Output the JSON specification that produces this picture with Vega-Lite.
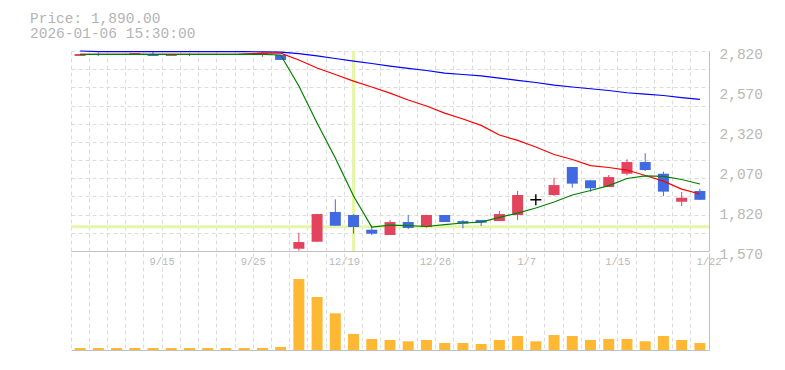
{
  "$schema": "https://vega.github.io/schema/vega-lite/v6.json",
  "padding": {"left": 30, "top": 10, "right": 5, "bottom": 5},
  "background": "white",
  "title": {"text": ["Price: 1,890.00", "2026-01-06 15:30:00"], "anchor": "start", "frame": "group", "dx": -41, "font": "Liberation Mono", "fontSize": 14.5, "fontWeight": "normal", "color": "#b4b4b4", "lineHeight": 15, "offset": 5},
  "config": {
    "view": {"stroke": null},
    "axis": {"labelFont": "Liberation Mono", "labelColor": "#b8b8b8", "domainColor": "#c0c0c0", "gridColor": "#dcdcdc", "gridDash": [4, 3], "gridWidth": 1}
  },
  "datasets": {
    "k": [
      {"d": "9/9", "o": 2789, "h": 2801, "l": 2789, "c": 2801, "dir": "up", "v": 200, "ma5": 2799, "ma25": 2799, "ma75": 2820},
      {"d": "9/10", "o": 2801, "h": 2810, "l": 2789, "c": 2796, "dir": "down", "v": 200, "ma5": 2799, "ma25": 2799, "ma75": 2816},
      {"d": "9/11", "o": 2796, "h": 2802, "l": 2795, "c": 2801, "dir": "up", "v": 200, "ma5": 2799, "ma25": 2799, "ma75": 2816},
      {"d": "9/12", "o": 2795, "h": 2807, "l": 2795, "c": 2807, "dir": "up", "v": 200, "ma5": 2799, "ma25": 2799, "ma75": 2816},
      {"d": "9/15", "o": 2801, "h": 2818, "l": 2789, "c": 2789, "dir": "down", "v": 200, "ma5": 2799, "ma25": 2799, "ma75": 2816},
      {"d": "9/17", "o": 2789, "h": 2801, "l": 2789, "c": 2801, "dir": "up", "v": 200, "ma5": 2799, "ma25": 2799, "ma75": 2816},
      {"d": "9/19", "o": 2801, "h": 2805, "l": 2789, "c": 2796, "dir": "down", "v": 200, "ma5": 2799, "ma25": 2799, "ma75": 2816},
      {"d": "9/22", "o": 2796, "h": 2801, "l": 2796, "c": 2801, "dir": "up", "v": 200, "ma5": 2799, "ma25": 2799, "ma75": 2816},
      {"d": "9/24", "o": 2801, "h": 2801, "l": 2796, "c": 2796, "dir": "down", "v": 200, "ma5": 2799, "ma25": 2799, "ma75": 2816},
      {"d": "9/25", "o": 2797, "h": 2803, "l": 2797, "c": 2803, "dir": "flat", "v": 200, "ma5": 2799, "ma25": 2800, "ma75": 2816},
      {"d": "9/26", "o": 2798, "h": 2808, "l": 2783, "c": 2808, "dir": "up", "v": 200, "ma5": 2799, "ma25": 2807, "ma75": 2815},
      {"d": "9/29", "o": 2795, "h": 2795, "l": 2764, "c": 2764, "dir": "down", "v": 300, "ma5": 2795, "ma25": 2807, "ma75": 2813},
      {"d": "12/17", "o": 1584, "h": 1684, "l": 1572, "c": 1626, "dir": "up", "v": 7100, "ma5": 2601, "ma25": 2764, "ma75": 2803},
      {"d": "12/18", "o": 1628, "h": 1803, "l": 1626, "c": 1801, "dir": "up", "v": 5300, "ma5": 2370, "ma25": 2714, "ma75": 2789},
      {"d": "12/19", "o": 1814, "h": 1893, "l": 1728, "c": 1728, "dir": "down", "v": 3670, "ma5": 2151, "ma25": 2673, "ma75": 2773},
      {"d": "12/22", "o": 1795, "h": 1800, "l": 1678, "c": 1720, "dir": "down", "v": 1600, "ma5": 1914, "ma25": 2632, "ma75": 2757},
      {"d": "12/23", "o": 1703, "h": 1726, "l": 1670, "c": 1678, "dir": "down", "v": 1100, "ma5": 1720, "ma25": 2595, "ma75": 2742},
      {"d": "12/24", "o": 1670, "h": 1764, "l": 1670, "c": 1751, "dir": "up", "v": 1000, "ma5": 1732, "ma25": 2557, "ma75": 2726},
      {"d": "12/25", "o": 1751, "h": 1795, "l": 1707, "c": 1714, "dir": "down", "v": 870, "ma5": 1729, "ma25": 2514, "ma75": 2711},
      {"d": "12/26", "o": 1720, "h": 1797, "l": 1716, "c": 1795, "dir": "up", "v": 1000, "ma5": 1723, "ma25": 2476, "ma75": 2698},
      {"d": "12/29", "o": 1795, "h": 1795, "l": 1751, "c": 1751, "dir": "down", "v": 700, "ma5": 1735, "ma25": 2432, "ma75": 2682},
      {"d": "12/30", "o": 1757, "h": 1764, "l": 1712, "c": 1741, "dir": "down", "v": 700, "ma5": 1745, "ma25": 2395, "ma75": 2673},
      {"d": "1/5", "o": 1764, "h": 1764, "l": 1726, "c": 1747, "dir": "down", "v": 600, "ma5": 1751, "ma25": 2355, "ma75": 2664},
      {"d": "1/6", "o": 1757, "h": 1820, "l": 1757, "c": 1801, "dir": "up", "v": 1000, "ma5": 1780, "ma25": 2295, "ma75": 2651},
      {"d": "1/7", "o": 1795, "h": 1945, "l": 1764, "c": 1920, "dir": "up", "v": 1400, "ma5": 1807, "ma25": 2261, "ma75": 2636},
      {"d": "1/8", "o": 1890, "h": 1890, "l": 1890, "c": 1890, "dir": "flat", "v": 870, "ma5": 1839, "ma25": 2220, "ma75": 2623},
      {"d": "1/9", "o": 1920, "h": 2028, "l": 1914, "c": 1982, "dir": "up", "v": 1500, "ma5": 1876, "ma25": 2173, "ma75": 2607},
      {"d": "1/13", "o": 2095, "h": 2095, "l": 1966, "c": 1991, "dir": "down", "v": 1400, "ma5": 1920, "ma25": 2142, "ma75": 2595},
      {"d": "1/14", "o": 2012, "h": 2012, "l": 1941, "c": 1962, "dir": "down", "v": 1000, "ma5": 1948, "ma25": 2104, "ma75": 2584},
      {"d": "1/15", "o": 1970, "h": 2045, "l": 1970, "c": 2032, "dir": "up", "v": 1100, "ma5": 1979, "ma25": 2092, "ma75": 2573},
      {"d": "1/16", "o": 2053, "h": 2143, "l": 2043, "c": 2126, "dir": "up", "v": 1100, "ma5": 2023, "ma25": 2076, "ma75": 2559},
      {"d": "1/19", "o": 2126, "h": 2181, "l": 2070, "c": 2076, "dir": "down", "v": 870, "ma5": 2039, "ma25": 2042, "ma75": 2551},
      {"d": "1/20", "o": 2053, "h": 2066, "l": 1914, "c": 1941, "dir": "down", "v": 1400, "ma5": 2036, "ma25": 2007, "ma75": 2542},
      {"d": "1/21", "o": 1878, "h": 1939, "l": 1851, "c": 1903, "dir": "up", "v": 1000, "ma5": 2017, "ma25": 1957, "ma75": 2529},
      {"d": "1/22", "o": 1945, "h": 1959, "l": 1890, "c": 1890, "dir": "down", "v": 700, "ma5": 1989, "ma25": 1926, "ma75": 2518}
    ]
  },
  "bounds": "flush",
  "spacing": 2,
  "resolve": {"scale": {"x": "independent"}},
  "vconcat": [
    {
      "width": 638,
      "height": 200,
      "data": {"name": "k"},
      "encoding": {
        "x": {"field": "d", "type": "ordinal", "sort": null,
          "scale": {"type": "band", "paddingInner": 0, "paddingOuter": 0, "domain": ["9/9","9/10","9/11","9/12","9/15","9/17","9/19","9/22","9/24","9/25","9/26","9/29","12/17","12/18","12/19","12/22","12/23","12/24","12/25","12/26","12/29","12/30","1/5","1/6","1/7","1/8","1/9","1/13","1/14","1/15","1/16","1/19","1/20","1/21","1/22"]},
          "axis": {"bandPosition": 0, "grid": true, "ticks": false, "domain": true, "title": null, "labelAngle": 0, "labelOverlap": false, "labelFlush": false, "labelOffset": 9.1, "labelPadding": 5, "labelFontSize": 10.5, "labelExpr": "indexof(['9/15','9/25','12/19','12/26','1/7','1/15','1/22'], datum.value) >= 0 ? datum.value : ''"}}
      },
      "layer": [
        {
          "data": {"values": [{}]},
          "mark": {"type": "rule", "color": "#e5f6a8", "strokeWidth": 3},
          "encoding": {
            "x": null,
            "y": {"datum": 1722, "type": "quantitative", "scale": {"domain": [1570, 2820], "nice": false, "zero": false},
              "axis": {"orient": "left", "values": [1570, 1683.64, 1797.27, 1910.91, 2024.55, 2138.18, 2251.82, 2365.45, 2479.09, 2592.73, 2706.36, 2820], "grid": true, "labels": false, "ticks": false, "domain": false, "title": null}}
          }
        },
        {
          "data": {"values": [{}]},
          "mark": {"type": "rule", "color": "#e5f6a8", "strokeWidth": 3},
          "encoding": {"x": {"datum": "12/22", "type": "ordinal"}}
        },
        {
          "mark": {"type": "rule", "strokeWidth": 1},
          "encoding": {
            "y": {"field": "l", "type": "quantitative", "scale": {"domain": [1570, 2820], "nice": false, "zero": false},
              "axis": {"orient": "right", "values": [1570, 1820, 2070, 2320, 2570, 2820], "format": ",.0f", "grid": false, "ticks": false, "domain": true, "labels": true, "labelPadding": 10, "labelOffset": 3, "labelFlush": false, "labelFontSize": 14.5, "title": null}},
            "y2": {"field": "h"},
            "color": {"field": "dir", "type": "nominal", "scale": {"domain": ["up", "down", "flat"], "range": ["#e2445e", "#4169e1", "#000000"]}, "legend": null}
          }
        },
        {
          "mark": {"type": "bar", "size": 11},
          "encoding": {
            "y": {"field": "o", "type": "quantitative", "scale": {"domain": [1570, 2820], "nice": false, "zero": false}, "axis": null},
            "y2": {"field": "c"},
            "color": {"field": "dir", "type": "nominal", "scale": {"domain": ["up", "down", "flat"], "range": ["#e2445e", "#4169e1", "#000000"]}, "legend": null}
          }
        },
        {
          "mark": {"type": "line", "color": "#0000ff", "strokeWidth": 1.2},
          "encoding": {"y": {"field": "ma75", "type": "quantitative", "scale": {"domain": [1570, 2820], "nice": false, "zero": false}, "axis": null}}
        },
        {
          "mark": {"type": "line", "color": "#ff0000", "strokeWidth": 1.2},
          "encoding": {"y": {"field": "ma25", "type": "quantitative", "scale": {"domain": [1570, 2820], "nice": false, "zero": false}, "axis": null}}
        },
        {
          "mark": {"type": "line", "color": "#008000", "strokeWidth": 1.2},
          "encoding": {"y": {"field": "ma5", "type": "quantitative", "scale": {"domain": [1570, 2820], "nice": false, "zero": false}, "axis": null}}
        },
        {
          "data": {"values": [{}]},
          "mark": {"type": "point", "shape": "M-1,0L1,0M0,-1L0,1", "filled": false, "color": "#000000", "strokeWidth": 1.4, "size": 121, "opacity": 1},
          "encoding": {
            "x": {"datum": "1/8", "type": "ordinal"},
            "y": {"datum": 1890, "type": "quantitative", "scale": {"domain": [1570, 2820], "nice": false, "zero": false}, "axis": null}
          }
        }
      ],
      "resolve": {"scale": {"y": "independent"}, "axis": {"y": "independent"}}
    },
    {
      "width": 638,
      "height": 97,
      "data": {"name": "k"},
      "mark": {"type": "bar", "size": 11, "color": "#ffb833"},
      "encoding": {
        "x": {"field": "d", "type": "ordinal", "sort": null,
          "scale": {"type": "band", "paddingInner": 0, "paddingOuter": 0, "domain": ["9/9","9/10","9/11","9/12","9/15","9/17","9/19","9/22","9/24","9/25","9/26","9/29","12/17","12/18","12/19","12/22","12/23","12/24","12/25","12/26","12/29","12/30","1/5","1/6","1/7","1/8","1/9","1/13","1/14","1/15","1/16","1/19","1/20","1/21","1/22"]},
          "axis": {"bandPosition": 0, "grid": true, "labels": false, "ticks": false, "domain": true, "title": null}},
        "y": {"field": "v", "type": "quantitative", "scale": {"domain": [0, 9700]},
          "axis": {"orient": "right", "grid": false, "labels": false, "ticks": false, "domain": true, "title": null}}
      }
    }
  ]
}
